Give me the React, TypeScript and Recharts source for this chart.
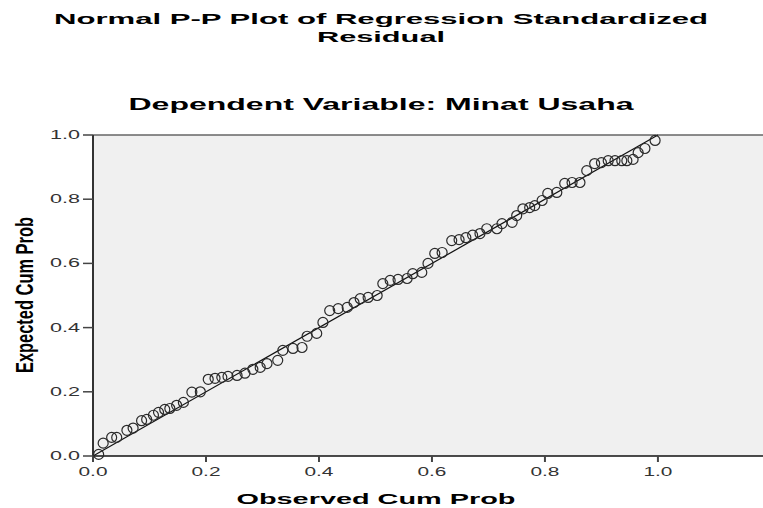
import React from "react";
import {
  ScatterChart,
  Scatter,
  XAxis,
  YAxis,
  CartesianGrid,
  ReferenceLine,
} from "recharts";

const titleLine1 = "Normal P-P Plot of Regression Standardized";
const titleLine2 = "Residual";
const subTitle = "Dependent Variable: Minat Usaha";
const xAxisTitle = "Observed Cum Prob";
const yAxisTitle = "Expected Cum Prob";

const xTicks = [0, 0.2, 0.4, 0.6, 0.8, 1.0];
const yTicks = [0, 0.2, 0.4, 0.6, 0.8, 1.0];

const observedCumProb = [
  0.010, 0.018, 0.033, 0.042, 0.060, 0.071, 0.086, 0.095, 0.107, 0.116,
  0.127, 0.136, 0.148, 0.160, 0.175, 0.190, 0.204, 0.216, 0.228, 0.239,
  0.255, 0.269, 0.283, 0.296, 0.308, 0.327, 0.336, 0.354, 0.370, 0.379,
  0.396, 0.407, 0.419, 0.434, 0.450, 0.462, 0.473, 0.487, 0.503, 0.513,
  0.526, 0.540, 0.556, 0.566, 0.582, 0.593, 0.605, 0.618, 0.635, 0.648,
  0.660, 0.672, 0.685, 0.697, 0.715, 0.724, 0.742, 0.750, 0.761, 0.773,
  0.782, 0.795, 0.805, 0.821, 0.835, 0.848, 0.862, 0.874, 0.888, 0.900,
  0.912, 0.924, 0.936, 0.945, 0.956, 0.965, 0.977, 0.995,
];

const expectedCumProb = [
  0.005, 0.040, 0.058, 0.058, 0.080, 0.087, 0.110, 0.114, 0.127, 0.136,
  0.145, 0.148, 0.158, 0.167, 0.199, 0.200, 0.239, 0.242, 0.245, 0.248,
  0.251, 0.258, 0.270, 0.276, 0.288, 0.298, 0.329, 0.335, 0.338, 0.373,
  0.382, 0.416, 0.453, 0.459, 0.463, 0.478, 0.490, 0.494, 0.500, 0.537,
  0.547, 0.550, 0.553, 0.568, 0.572, 0.600, 0.631, 0.634, 0.671, 0.674,
  0.680, 0.688, 0.693, 0.708, 0.708, 0.724, 0.728, 0.749, 0.770, 0.774,
  0.780, 0.796, 0.818, 0.821, 0.849, 0.852, 0.852, 0.889, 0.911, 0.914,
  0.920, 0.920, 0.920, 0.920, 0.924, 0.945, 0.958, 0.983,
];

const data = observedCumProb.map((x, i) => ({ x, y: expectedCumProb[i] }));

const FONT = "'Liberation Sans', Arial, sans-serif";

const YTick = (props: any) => {
  const { x, y, payload } = props;
  return (
    <text
      x={x}
      y={y}
      dy={4}
      textAnchor="end"
      fontFamily={FONT}
      fontSize={12}
      fill="#333"
      textLength={30}
      lengthAdjust="spacingAndGlyphs"
    >
      {Number(payload.value).toFixed(1)}
    </text>
  );
};

const XTick = (props: any) => {
  const { x, y, payload } = props;
  return (
    <text
      x={x}
      y={y}
      dy={11}
      textAnchor="middle"
      fontFamily={FONT}
      fontSize={12}
      fill="#333"
      textLength={29}
      lengthAdjust="spacingAndGlyphs"
    >
      {Number(payload.value).toFixed(1)}
    </text>
  );
};

const OpenCircle = (props: any) => {
  const { cx, cy } = props;
  if (cx == null || cy == null) return null;
  return <circle cx={cx} cy={cy} r={5} fill="none" stroke="#2a2a2a" strokeWidth={1.2} />;
};

export default function App() {
  return (
    <div style={{ position: "absolute", left: 0, top: 0, width: 763, height: 508, background: "#fff" }}>
      <ScatterChart
        width={763}
        height={508}
        margin={{ top: 135, right: 0, bottom: 0, left: 0 }}
      >
        <CartesianGrid fill="#f0f0f0" stroke="none" horizontal={false} vertical={false} />
        <XAxis
          type="number"
          dataKey="x"
          domain={[0, 1.186]}
          ticks={xTicks}
          allowDataOverflow
          height={52}
          tickSize={6}
          tickMargin={3}
          axisLine={{ stroke: "#111", strokeWidth: 1.5 }}
          tickLine={{ stroke: "#444", strokeWidth: 2 }}
          tick={<XTick />}
          interval={0}
        />
        <YAxis
          type="number"
          dataKey="y"
          domain={[0, 1]}
          ticks={yTicks}
          width={93}
          tickSize={10}
          tickMargin={3}
          axisLine={{ stroke: "#333", strokeWidth: 2 }}
          tickLine={{ stroke: "#444", strokeWidth: 1.5 }}
          tick={<YTick />}
          interval={0}
        />
        <ReferenceLine y={1} stroke="#666" strokeWidth={1.5} />
        <ReferenceLine
          segment={[
            { x: 0, y: 0 },
            { x: 1, y: 1 },
          ]}
          stroke="#111"
          strokeWidth={1.2}
        />
        <Scatter data={data} shape={<OpenCircle />} isAnimationActive={false} />
      </ScatterChart>
      <svg
        width={763}
        height={508}
        style={{ position: "absolute", left: 0, top: 0, pointerEvents: "none" }}
      >
        <g fontFamily={FONT} fontWeight="bold" fill="#000">
          <text x={381} y={24} fontSize={15.5} textAnchor="middle" textLength={654} lengthAdjust="spacingAndGlyphs">
            {titleLine1}
          </text>
          <text x={381} y={42} fontSize={15.5} textAnchor="middle" textLength={128} lengthAdjust="spacingAndGlyphs">
            {titleLine2}
          </text>
          <text x={381} y={110} fontSize={17} textAnchor="middle" textLength={505} lengthAdjust="spacingAndGlyphs">
            {subTitle}
          </text>
          <text x={376} y={504} fontSize={15} textAnchor="middle" textLength={279} lengthAdjust="spacingAndGlyphs">
            {xAxisTitle}
          </text>
          <text
            x={33}
            y={295}
            fontSize={24}
            textAnchor="middle"
            textLength={156}
            lengthAdjust="spacingAndGlyphs"
            transform="rotate(-90, 33, 295)"
          >
            {yAxisTitle}
          </text>
        </g>
      </svg>
    </div>
  );
}
